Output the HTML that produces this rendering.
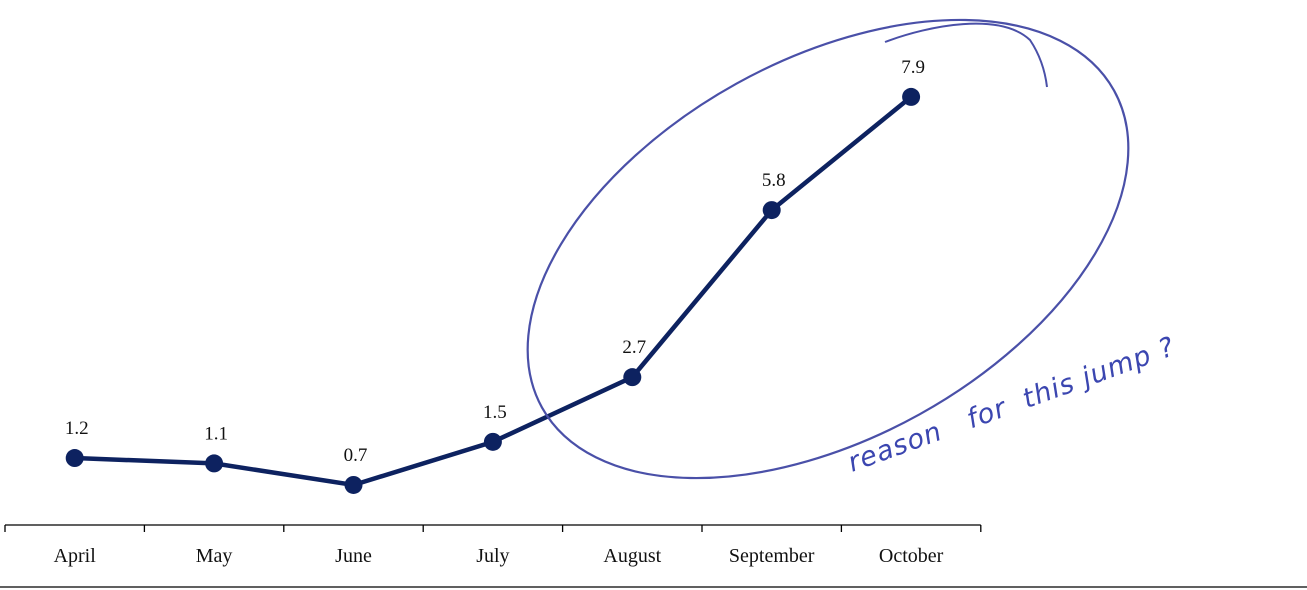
<!DOCTYPE html>
<html><head><meta charset="utf-8"><style>
html,body{margin:0;padding:0;background:#fff;}
svg{display:block;font-family:"Liberation Serif",serif;}
</style></head><body>
<svg id="chart" width="1307" height="590" viewBox="0 0 1307 590">
<g id="axis"></g>
<g id="series"></g>
<g>
<ellipse cx="828" cy="249" rx="327" ry="189" transform="rotate(-29 828 249)" fill="none" stroke="#4a50a8" stroke-width="2.2"/>
<path d="M885 42 C930 25 1000 12 1030 40 C1040 55 1045 70 1047 87" fill="none" stroke="#4a50a8" stroke-width="2"/>
<text x="852" y="472" transform="rotate(-20 852 472)" fill="#3b46b0" font-family="'DejaVu Sans',sans-serif" font-style="italic" font-size="27" letter-spacing="1">reason&#160;&#160;&#160;for&#160;&#160;this jump ?</text>
</g>
<line x1="0" y1="587" x2="1307" y2="587" stroke="#000" stroke-width="1.3"/>
</svg>
<script>
const categories=["April","May","June","July","August","September","October"];
const values=[1.2,1.1,0.7,1.5,2.7,5.8,7.9];
const labels=["1.2","1.1","0.7","1.5","2.7","5.8","7.9"];
const NS="http://www.w3.org/2000/svg";
const x0=5,bw=139.4;
function xs(i){return x0+bw*(i+0.5);}
function ys(v){return 522.7-v*53.9;}
function mk(t,a,p){const e=document.createElementNS(NS,t);for(const k in a)e.setAttribute(k,a[k]);p.appendChild(e);return e;}
const ax=document.getElementById('axis'),se=document.getElementById('series');
mk('line',{x1:x0,y1:525,x2:x0+bw*categories.length,y2:525,stroke:'#000','stroke-width':1.3},ax);
for(let i=0;i<=categories.length;i++){const t=mk('line',{x1:x0+bw*i,y1:525,x2:x0+bw*i,y2:532,stroke:'#000','stroke-width':1.3},ax);

}
categories.forEach((c,i)=>{const t=mk('text',{x:xs(i),y:562,'text-anchor':'middle','font-size':20,fill:'#111'},ax);t.textContent=c;

});
const pl=mk('polyline',{points:values.map((v,i)=>xs(i)+','+ys(v)).join(' '),fill:'none',stroke:'#0d2260','stroke-width':4.5},se);


values.forEach((v,i)=>{const c=mk('circle',{cx:xs(i),cy:ys(v),r:9,fill:'#0d2260'},se);


const t=mk('text',{x:xs(i)+2,y:ys(v)-24,'text-anchor':'middle','font-size':19,fill:'#111'},se);t.textContent=labels[i];

});
</script>
</body></html>
